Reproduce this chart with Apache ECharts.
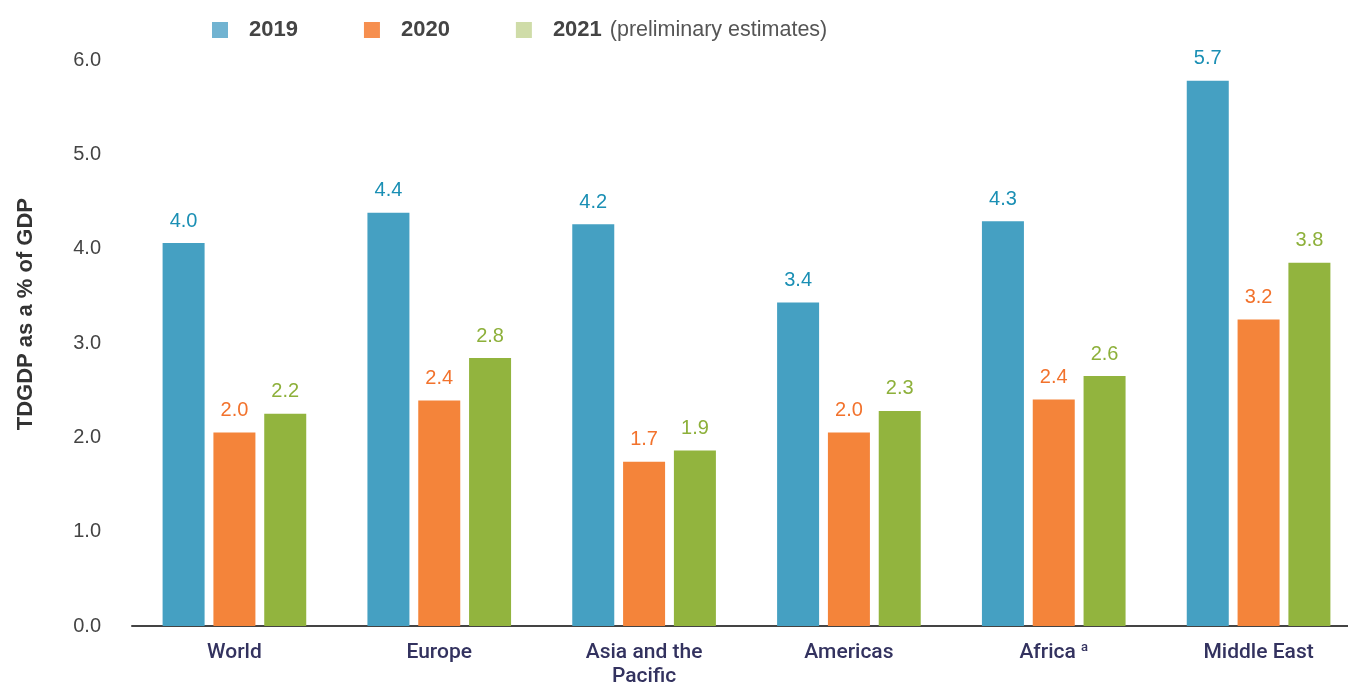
<!DOCTYPE html>
<html>
<head>
<meta charset="utf-8">
<script src="https://cdn.jsdelivr.net/npm/echarts@6/dist/echarts.min.js"></script>
<style>
  html, body { margin: 0; padding: 0; background: #fff; overflow: hidden; }
  #chart { width: 1348px; height: 682px; display: block; }
</style>
</head>
<body>
<div id="chart"></div>
<script>
const regions = ['World', 'Europe', 'Asia and the\nPacific', 'Americas', 'Africa', 'Middle East'];
const years = ['2019', '2020', '2021'];

// bar heights
const v2019 = [4.06, 4.38, 4.26, 3.43, 4.29, 5.78];
const v2020 = [2.05, 2.39, 1.74, 2.05, 2.40, 3.25];
const v2021 = [2.25, 2.84, 1.86, 2.28, 2.65, 3.85];

// printed labels above the bars
const lab2019 = ['4.0', '4.4', '4.2', '3.4', '4.3', '5.7'];
const lab2020 = ['2.0', '2.4', '1.7', '2.0', '2.4', '3.2'];
const lab2021 = ['2.2', '2.8', '1.9', '2.3', '2.6', '3.8'];

const yTicks = [0, 1, 2, 3, 4, 5, 6];

const barColors = ['#45a0c2', '#f4843a', '#92b43e'];
const legendColors = ['#71b3d1', '#f68f4f', '#cfdca8'];
const labelColors = ['#1a8fb4', '#f2722c', '#8db03a'];

const app = echarts.init(document.getElementById('chart'));

function mkSeries(i, values, labels) {
    return {
        name: years[i],
        type: 'bar',
        barWidth: 42,
        barGap: '21%',
        data: values,
        itemStyle: {color: barColors[i]},
        label: {
            show: true,
            position: 'top',
            distance: 12,
            fontFamily: 'Liberation Sans',
            fontSize: 20,
            color: labelColors[i],
            formatter: p => labels[p.dataIndex]
        }
    };
}

const option = {
    animation: false,
    legend: {
        left: 207,
        top: 14,
        itemWidth: 16,
        itemHeight: 16,
        itemGap: 66,
        icon: 'rect',
        data: years.map((y, i) => ({name: y, itemStyle: {color: legendColors[i]}})),
        formatter: name => name === '2021' ? '{b|2021}{n|(preliminary estimates)}' : '{b|' + name + '}',
        textStyle: {
            padding: [0, 0, 0, 16],
            rich: {
                b: {fontFamily: 'Liberation Sans', fontSize: 22, fontWeight: 'bold', color: '#444'},
                n: {fontFamily: 'Liberation Sans', fontSize: 21.5, color: '#555', padding: [0, 0, 0, 8]}
            }
        }
    },
    // v6 squeezes the grid to keep labels inside the canvas; turn that off
    grid: {left: 132, right: -13, top: 60, bottom: 56, outerBoundsMode: 'none', containLabel: false},
    xAxis: {
        type: 'category',
        data: regions,
        axisTick: {show: false},
        axisLine: {lineStyle: {color: '#444', width: 2}},
        axisLabel: {
            margin: 15,
            fontFamily: 'Roboto',
            fontWeight: 500,
            fontSize: 21,
            lineHeight: 24,
            color: '#33325f',
            formatter: v => v === 'Africa' ? 'Africa {sup|a}' : v,
            rich: {
                sup: {fontFamily: 'Roboto', fontWeight: 500, fontSize: 13, color: '#33325f', verticalAlign: 'top', padding: [0, 0, 10, 0]}
            }
        }
    },
    yAxis: {
        type: 'value',
        min: yTicks[0],
        max: yTicks[yTicks.length - 1],
        interval: 1,
        splitLine: {show: false},
        axisLine: {show: false},
        axisTick: {show: false},
        axisLabel: {
            margin: 31,
            fontFamily: 'Liberation Sans',
            fontSize: 20,
            color: '#444',
            formatter: v => v.toFixed(1)
        }
    },
    graphic: [{
        type: 'text',
        left: 15,
        top: 198,
        rotation: Math.PI / 2,
        style: {
            text: 'TDGDP as a % of GDP',
            fontFamily: 'Liberation Sans',
            fontWeight: 'bold',
            fontSize: 22,
            fill: '#333'
        }
    }],
    series: [
        mkSeries(0, v2019, lab2019),
        mkSeries(1, v2020, lab2020),
        mkSeries(2, v2021, lab2021)
    ]
};

app.setOption(option);
</script>
</body>
</html>
